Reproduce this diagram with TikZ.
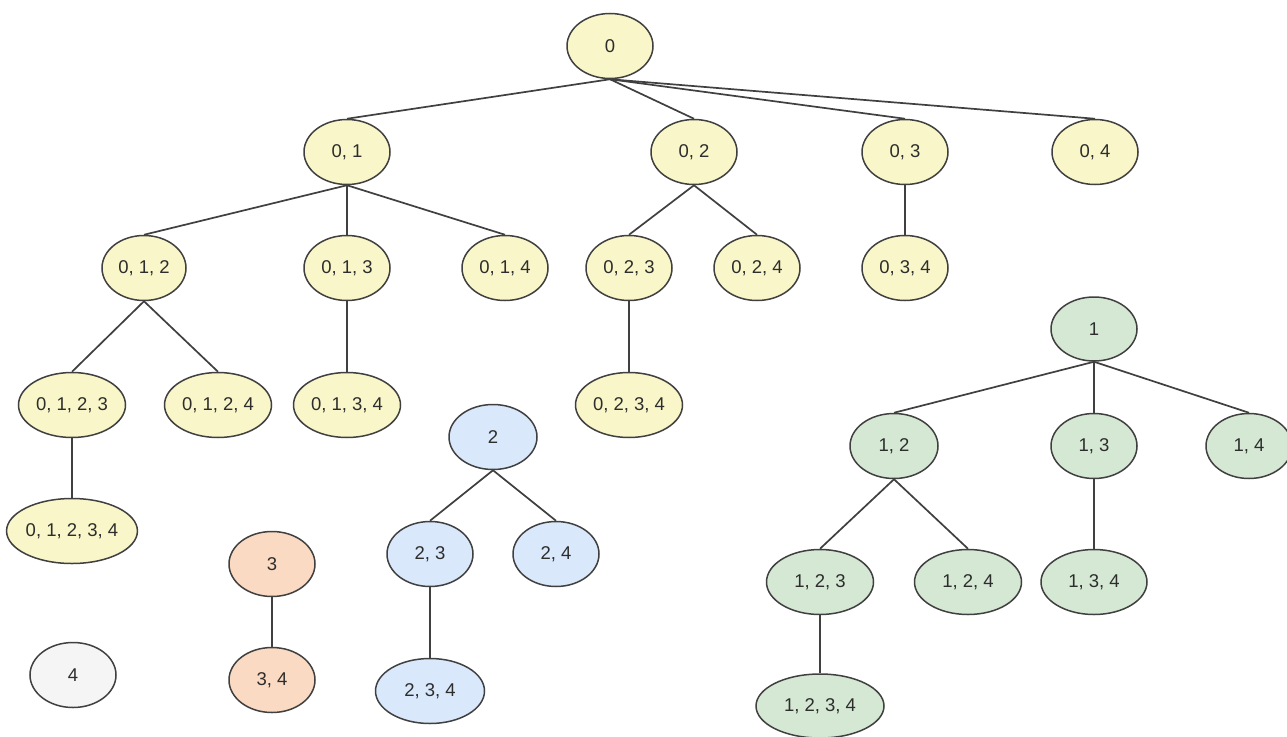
\documentclass[tikz,border=0pt]{standalone}
\usepackage{fontspec}
\setmainfont{Liberation Sans}
\usetikzlibrary{shapes.geometric}
\definecolor{yelfill}{RGB}{249,247,201}
\definecolor{grnfill}{RGB}{213,232,212}
\definecolor{blufill}{RGB}{218,232,252}
\definecolor{orgfill}{RGB}{250,218,194}
\definecolor{gryfill}{RGB}{245,245,245}
\definecolor{edgecol}{RGB}{64,64,64}
\definecolor{txtcol}{RGB}{45,45,45}
\tikzset{
  setnode/.style={ellipse, draw=edgecol, line width=1.5pt, inner sep=0pt,
    minimum width=86pt, minimum height=65pt, text=txtcol,
    font=\fontsize{18.5}{22}\selectfont},
  yel/.style={setnode, fill=yelfill},
  grn/.style={setnode, fill=grnfill},
  blu/.style={setnode, fill=blufill},
  org/.style={setnode, fill=orgfill},
  gry/.style={setnode, fill=gryfill},
  mid/.style={minimum width=107pt},
  wide/.style={minimum width=128pt},
  link/.style={draw=edgecol, line width=1.7pt}
}
\begin{document}
\begin{tikzpicture}[x=1pt, y=-1pt]
\fill[white] (0,0) rectangle (1287,736);
\useasboundingbox (0,0) rectangle (1287,736);
% yellow tree
\node[yel] (n0) at (610,46) {0};
\node[yel] (n01) at (347,152) {0, 1};
\node[yel] (n02) at (694,152) {0, 2};
\node[yel] (n03) at (905,152) {0, 3};
\node[yel] (n04) at (1095,152) {0, 4};
\node[yel, minimum width=84pt] (n012) at (144,268) {0, 1, 2};
\node[yel] (n013) at (347,268) {0, 1, 3};
\node[yel] (n014) at (505,268) {0, 1, 4};
\node[yel] (n023) at (629,268) {0, 2, 3};
\node[yel] (n024) at (757,268) {0, 2, 4};
\node[yel] (n034) at (905,268) {0, 3, 4};
\node[yel, mid] (n0123) at (72,405) {0, 1, 2, 3};
\node[yel, mid] (n0124) at (218,405) {0, 1, 2, 4};
\node[yel, mid] (n0134) at (347,405) {0, 1, 3, 4};
\node[yel, mid] (n0234) at (629,405) {0, 2, 3, 4};
\node[yel, wide] (n01234) at (72,531) {0, 1, 2, 3, 4};
% blue tree
\node[blu, minimum width=88pt] (n2) at (493,437) {2};
\node[blu] (n23) at (430,554) {2, 3};
\node[blu] (n24) at (556,554) {2, 4};
\node[blu, minimum width=109pt] (n234) at (430,691) {2, 3, 4};
% orange tree
\node[org] (n3) at (272,564) {3};
\node[org] (n34) at (272,680) {3, 4};
% grey
\node[gry] (n4) at (73,675) {4};
% green tree
\node[grn, minimum height=64pt] (n1) at (1094,329) {1};
\node[grn, minimum width=88pt] (n12) at (894,446) {1, 2};
\node[grn] (n13) at (1094,446) {1, 3};
\node[grn] (n14) at (1249,446) {1, 4};
\node[grn, mid] (n123) at (820,582) {1, 2, 3};
\node[grn, mid] (n124) at (968,582) {1, 2, 4};
\node[grn, minimum width=106pt] (n134) at (1094,582) {1, 3, 4};
\node[grn, wide, minimum height=64pt] (n1234) at (820,706) {1, 2, 3, 4};
% links
\foreach \a/\b in {n0/n01,n0/n02,n0/n03,n0/n04,
  n01/n012,n01/n013,n01/n014,n02/n023,n02/n024,n03/n034,
  n012/n0123,n012/n0124,n013/n0134,n023/n0234,n0123/n01234,
  n2/n23,n2/n24,n23/n234,n3/n34,
  n1/n12,n1/n13,n1/n14,n12/n123,n12/n124,n13/n134,n123/n1234}
  \draw[link] (\a.south) -- (\b.north);
\end{tikzpicture}
\end{document}
